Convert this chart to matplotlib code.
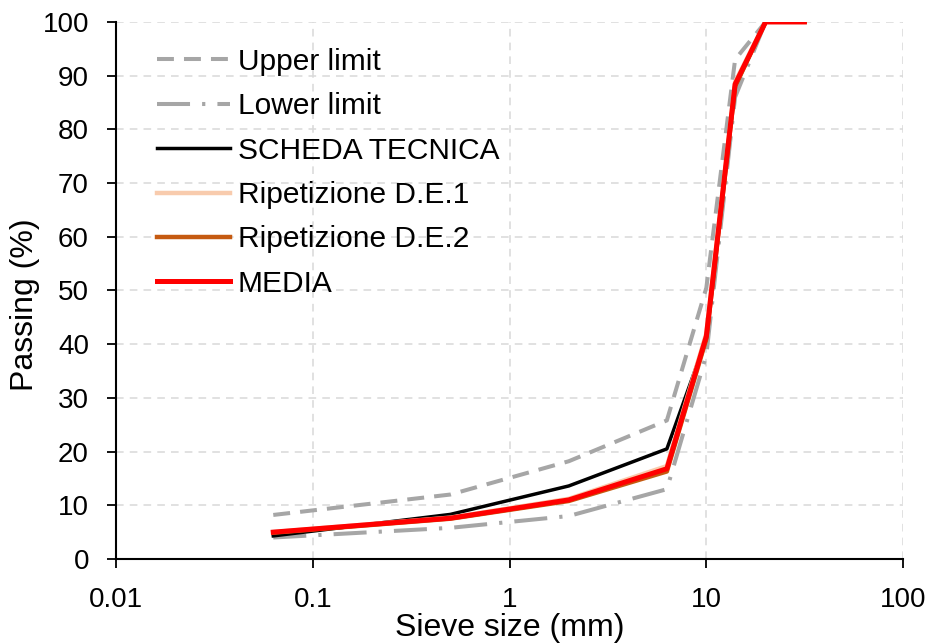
import matplotlib
matplotlib.use("Agg")
import matplotlib.pyplot as plt
from matplotlib.ticker import FixedLocator, FixedFormatter, NullLocator

plt.rcParams['font.family'] = ['Liberation Sans', 'DejaVu Sans']

# setacci (mm)
sieve = [0.063, 0.5, 2, 6.3, 10, 14, 20, 31.5]

upper_limit = [8.2, 12.0, 18.2, 25.8, 50.5, 93.0, 100, 100]
lower_limit = [4.0, 5.8, 8.0, 13.0, 38.0, 86.0, 100, 100]
scheda_tecnica = [4.3, 8.3, 13.6, 20.5, 41.0, 88.0, 100, 100]
ripetizione_1 = [5.0, 7.7, 11.2, 17.3, 42.0, 88.8, 100, 100]
ripetizione_2 = [4.9, 7.5, 10.8, 16.3, 41.0, 88.0, 100, 100]
media = [5.0, 7.6, 11.0, 16.8, 41.5, 88.4, 100, 100]

x_ticks = [0.01, 0.1, 1, 10, 100]
x_tick_labels = ["0.01", "0.1", "1", "10", "100"]
y_ticks = [0, 10, 20, 30, 40, 50, 60, 70, 80, 90, 100]

fig = plt.figure(figsize=(9.33, 6.44), dpi=100)
ax = fig.add_axes([0.1243, 0.132, 0.8437, 0.834])

GRAY = '#a6a6a6'
ax.plot(sieve, upper_limit, color=GRAY, lw=2.9, dashes=(4.2, 2.5),
        dash_capstyle='butt', label='Upper limit', zorder=3)
ax.plot(sieve, lower_limit, color=GRAY, lw=2.9, dashes=(8.2, 3.0, 0.8, 3.0),
        dash_capstyle='butt', label='Lower limit', zorder=3)
ax.plot(sieve, scheda_tecnica, color='black', lw=2.5, label='SCHEDA TECNICA', zorder=4)
ax.plot(sieve, ripetizione_1, color='#f8cbad', lw=3.2, label='Ripetizione D.E.1', zorder=4)
ax.plot(sieve, ripetizione_2, color='#c55a11', lw=3.2, label='Ripetizione D.E.2', zorder=4)
ax.plot(sieve, media, color='#ff0000', lw=3.6, label='MEDIA', zorder=5)

ax.set_xscale('log')
ax.set_xlim(0.01, 100)
ax.set_ylim(0, 100)
ax.xaxis.set_major_locator(FixedLocator(x_ticks))
ax.xaxis.set_major_formatter(FixedFormatter(x_tick_labels))
ax.xaxis.set_minor_locator(NullLocator())
ax.set_yticks(y_ticks)

ax.grid(True, color='#d9d9d9', ls=(0, (5, 4)), lw=1.1, zorder=0)
for s in ['top', 'right']:
    ax.spines[s].set_visible(False)
for s in ['left', 'bottom']:
    ax.spines[s].set_linewidth(1.5)
    ax.spines[s].set_zorder(6)

ax.tick_params(axis='both', labelsize=20, width=1.3, length=6.5, direction='out')
ax.tick_params(axis='x', pad=14)
ax.tick_params(axis='y', pad=13)

ax.set_xlabel('Sieve size (mm)', fontsize=23, labelpad=0)
ax.set_ylabel('Passing (%)', fontsize=23)
ax.yaxis.set_label_coords(-0.096, 0.473)

ax.legend(loc='upper left', bbox_to_anchor=(0.037, 0.974), frameon=False,
          fontsize=21.5, handlelength=2.45, handletextpad=0.25,
          labelspacing=0.55, borderaxespad=0)

fig.savefig('out.png', dpi=100)
